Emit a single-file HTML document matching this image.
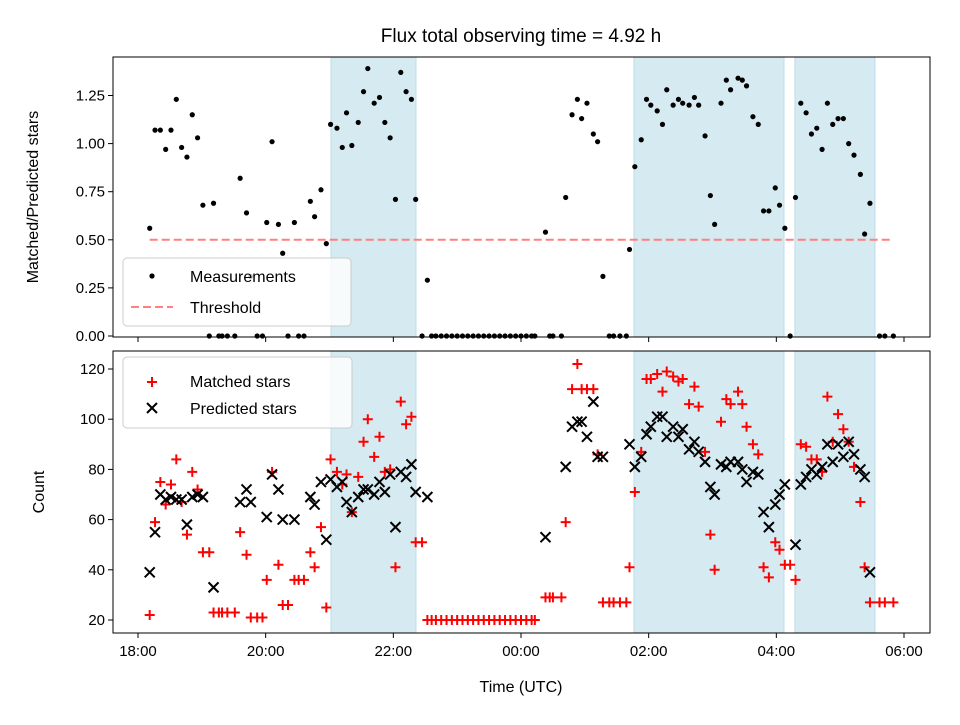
<!DOCTYPE html>
<html><head><meta charset="utf-8"><style>
body{margin:0;background:#fff}
svg text{font-family:"Liberation Sans","DejaVu Sans",sans-serif;fill:#000}
</style></head><body>
<svg id="chart" width="960" height="720" xmlns="http://www.w3.org/2000/svg">
<rect width="960" height="720" fill="#fff"/>
<text x="521" y="42" font-size="19" text-anchor="middle">Flux total observing time = 4.92 h</text>
<g id="topPanel"></g><g id="botPanel"></g>
<text transform="translate(38,197) rotate(-90)" font-size="16" text-anchor="middle">Matched/Predicted stars</text>
<text transform="translate(44,492) rotate(-90)" font-size="16" text-anchor="middle">Count</text>
<text x="521" y="692" font-size="16" text-anchor="middle">Time (UTC)</text>
</svg>
<script>
// minutes since 18:00 UTC
const times=[11,16,21,26,31,36,41,46,51,56,61,67,71,76,79,84,91,96,102,106,112,117,121,126,132,136,141,147,151,156,162,166,172,177,181,187,192,196,201,207,212,216,222,227,232,237,242,247,252,257,261,267,272,276,280,285,290,295,300,305,310,315,320,325,330,335,340,345,350,355,360,365,370,373,383,387,390,398,402,408,413,417,422,428,432,437,443,447,453,459,462,467,473,478,482,488,493,497,503,508,512,518,523,527,533,538,542,548,553,557,564,568,572,578,583,588,593,599,603,608,613,618,623,628,633,638,643,648,653,658,663,668,673,679,683,688,697,702,710];
const ratios=[0.56,1.07,1.07,0.97,1.07,1.23,0.98,0.93,1.15,1.03,0.68,0,0.69,0,0,0,0,0.82,0.64,0.31,0,0,0.59,1.01,0.58,0.43,0,0.59,0,0,0.70,0.62,0.76,0.48,1.10,1.08,0.98,1.16,0.99,1.11,1.27,1.39,1.21,1.24,1.11,1.03,0.71,1.37,1.27,1.23,0.71,0,0.29,0,0,0,0,0,0,0,0,0,0,0,0,0,0,0,0,0,0,0,0,0,0.54,0,0,0,0.72,1.15,1.23,1.13,1.21,1.05,1.01,0.31,0,0,0,0,0.45,0.88,1.02,1.23,1.20,1.17,1.10,1.28,1.20,1.23,1.21,1.20,1.24,1.20,1.04,0.73,0.58,1.21,1.33,1.28,1.34,1.33,1.30,1.14,1.10,0.65,0.65,0.77,0.68,0.56,0,0.72,1.21,1.16,1.05,1.08,0.97,1.21,1.10,1.13,1.13,1.00,0.94,0.84,0.53,0.69,0,0,0];
const matched=[22,59,75,66,74,84,67,54,79,72,47,47,23,23,23,23,23,55,46,21,21,21,36,79,42,26,26,36,36,36,47,41,57,25,84,79,74,78,63,77,91,100,85,93,79,80,41,107,98,101,51,51,20,20,20,20,20,20,20,20,20,20,20,20,20,20,20,20,20,20,20,20,20,20,29,29,29,29,59,112,122,112,112,112,86,27,27,27,27,27,41,71,87,116,116,118,111,119,117,115,116,106,113,105,87,54,40,99,108,106,111,106,97,90,86,41,37,51,48,42,42,36,90,89,84,84,79,109,91,102,96,91,81,67,41,27,27,27,27];
const predicted=[39,55,70,68,69,68,68,58,69,70,69,null,33,null,null,null,null,67,72,67,null,null,61,78,72,60,null,60,null,null,69,66,75,52,76,73,75,67,63,69,72,72,70,75,71,78,57,79,77,82,71,null,69,null,null,null,null,null,null,null,null,null,null,null,null,null,null,null,null,null,null,null,null,null,53,null,null,null,81,97,99,99,93,107,85,85,null,null,null,null,90,81,85,94,97,101,101,93,97,93,96,88,91,87,83,73,70,82,81,83,83,80,75,79,78,63,57,66,70,74,null,50,74,77,80,78,81,90,83,90,85,91,86,80,77,39,null,null,null];
const shadeStarts=[181.4,466.2,617.5];
const shadeEnds=[261.3,607.2,692.7];
const threshold=0.5;
const xTickVals=[0,120,240,360,480,600,720];
const xTickLabels=["18:00","20:00","22:00","00:00","02:00","04:00","06:00"];
const topTicks=[0,0.25,0.5,0.75,1.0,1.25];
const topTickLabels=["0.00","0.25","0.50","0.75","1.00","1.25"];
const botTicks=[20,40,60,80,100,120];

const NS="http://www.w3.org/2000/svg";
const L=113,R=930,T1=57,B1=337,T2=351,B2=633;
const xs=t=>138+t*(766/720);
const yTop=v=>336-v*192.4;
const yBot=c=>620-(c-20)*2.51;
function mk(tag,parent,attrs){const e=document.createElementNS(NS,tag);for(const k in attrs)e.setAttribute(k,attrs[k]);parent.appendChild(e);return e;}
const topG=document.getElementById('topPanel'),botG=document.getElementById('botPanel');

function panel(g,T,B,name){
  for(let i=0;i<shadeStarts.length;i++){
    const r=mk('rect',g,{x:xs(shadeStarts[i]),y:T,width:xs(shadeEnds[i])-xs(shadeStarts[i]),height:B-T,fill:'#d5eaf1',stroke:'#bcdde8','stroke-width':1});
    
    
  }
  xTickVals.forEach((v,i)=>{
    const l=mk('line',g,{x1:xs(v),x2:xs(v),y1:B,y2:B+5,stroke:'#000','stroke-width':1});
    
    
  });
}
panel(topG,T1,B1,'top');panel(botG,T2,B2,'bottom');

const th=mk('line',topG,{x1:xs(11),x2:xs(710),y1:yTop(threshold),y2:yTop(threshold),stroke:'#ff8080','stroke-width':2,'stroke-dasharray':'8,4'});


times.forEach((t,i)=>{
  if(ratios[i]===undefined)return;
  const c=mk('circle',topG,{cx:xs(t),cy:yTop(ratios[i]),r:2.6,fill:'#000'});
  
  
});
topTicks.forEach((v,i)=>{
  mk('line',topG,{x1:L-5,x2:L,y1:yTop(v),y2:yTop(v),stroke:'#000'});
  const tx=mk('text',topG,{x:L-8,y:yTop(v)+5,'font-size':15,'text-anchor':'end'});
  tx.textContent=topTickLabels[i];
  
  
});
mk('rect',topG,{x:L,y:T1,width:R-L,height:B1-T1,fill:'none',stroke:'#000','stroke-width':1});

times.forEach((t,i)=>{
  if(matched[i]===undefined)return;
  const x=xs(t),y=yBot(matched[i]);
  const p=mk('path',botG,{d:`M${x-5},${y}H${x+5}M${x},${y-5}V${y+5}`,stroke:'#f00','stroke-width':2,fill:'none'});
  
  
});
times.forEach((t,i)=>{
  if(predicted[i]===null||predicted[i]===undefined)return;
  const x=xs(t),y=yBot(predicted[i]);
  const p=mk('path',botG,{d:`M${x-5},${y-5}L${x+5},${y+5}M${x-5},${y+5}L${x+5},${y-5}`,stroke:'#000','stroke-width':2,fill:'none'});
  
  
});
botTicks.forEach(v=>{
  mk('line',botG,{x1:L-5,x2:L,y1:yBot(v),y2:yBot(v),stroke:'#000'});
  const tx=mk('text',botG,{x:L-8,y:yBot(v)+5,'font-size':15,'text-anchor':'end'});
  tx.textContent=v;
  
  
});
xTickVals.forEach((v,i)=>{
  const tx=mk('text',botG,{x:xs(v),y:B2+23,'font-size':15,'text-anchor':'middle'});
  tx.textContent=xTickLabels[i];
  
  
});
mk('rect',botG,{x:L,y:T2,width:R-L,height:B2-T2,fill:'none',stroke:'#000','stroke-width':1});

const lg1=mk('g',topG,{});


mk('rect',lg1,{x:123,y:258,width:228,height:68,rx:4,fill:'rgba(255,255,255,0.8)',stroke:'#ccc'});
mk('circle',lg1,{cx:152,cy:276,r:2.6,fill:'#000'});
let t1=mk('text',lg1,{x:190,y:282,'font-size':16});t1.textContent='Measurements';
mk('line',lg1,{x1:131,x2:173,y1:307,y2:307,stroke:'#ff8080','stroke-width':2,'stroke-dasharray':'8,4'});
let t2=mk('text',lg1,{x:190,y:313,'font-size':16});t2.textContent='Threshold';

const lg2=mk('g',botG,{});


mk('rect',lg2,{x:123,y:357,width:229,height:71,rx:4,fill:'rgba(255,255,255,0.8)',stroke:'#ccc'});
mk('path',lg2,{d:'M147,382H157M152,377V387',stroke:'#f00','stroke-width':2});
let t3=mk('text',lg2,{x:190,y:387,'font-size':16});t3.textContent='Matched stars';
mk('path',lg2,{d:'M147,403L157,413M147,413L157,403',stroke:'#000','stroke-width':2});
let t4=mk('text',lg2,{x:190,y:414,'font-size':16});t4.textContent='Predicted stars';
</script>
</body></html>
